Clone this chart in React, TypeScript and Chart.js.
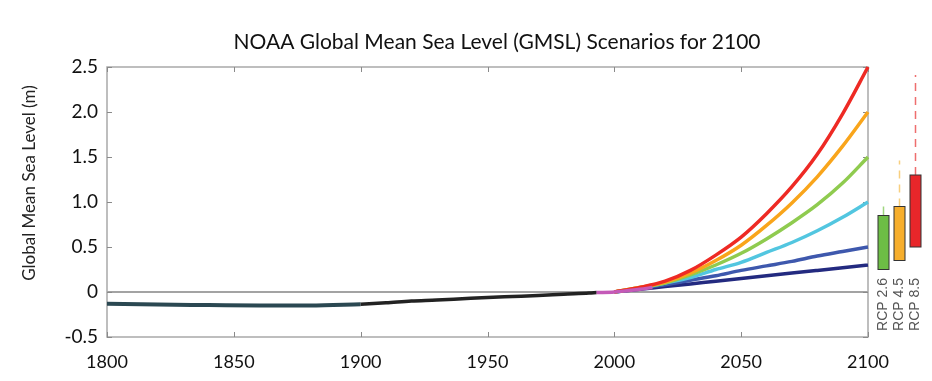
import React, { useEffect, useRef } from "react";
import { Chart, registerables } from "chart.js";

Chart.register(...registerables);

// ---------- data ----------
const chartTitle = "NOAA Global Mean Sea Level (GMSL) Scenarios for 2100";
const yAxisTitle = "Global Mean Sea Level (m)";

const earlyYears = [1800, 1820, 1840, 1860, 1880, 1900];
const earlyValues = [-0.13, -0.14, -0.145, -0.15, -0.15, -0.135];

const tideYears = [1900, 1910, 1920, 1930, 1940, 1950, 1960, 1970, 1980, 1990, 1993];
const tideValues = [-0.135, -0.12, -0.1, -0.09, -0.075, -0.06, -0.05, -0.04, -0.025, -0.012, -0.006];

const satYears = [1993, 2000, 2005, 2010, 2015];
const satValues = [-0.006, 0, 0.015, 0.03, 0.05];

const scenarioYears = [2000, 2010, 2020, 2030, 2040, 2050, 2060, 2070, 2080, 2090, 2100];
const lowValues = [0, 0.03, 0.06, 0.09, 0.12, 0.15, 0.18, 0.21, 0.24, 0.27, 0.3];
const intLowValues = [0, 0.04, 0.08, 0.13, 0.18, 0.24, 0.29, 0.34, 0.4, 0.45, 0.5];
const intermediateValues = [0, 0.04, 0.1, 0.16, 0.25, 0.33, 0.44, 0.55, 0.68, 0.83, 1.0];
const intHighValues = [0, 0.05, 0.1, 0.19, 0.3, 0.43, 0.59, 0.77, 0.97, 1.21, 1.5];
const highValues = [0, 0.05, 0.11, 0.21, 0.35, 0.52, 0.74, 0.99, 1.28, 1.62, 2.0];
const extremeValues = [0, 0.05, 0.12, 0.24, 0.41, 0.61, 0.87, 1.17, 1.53, 1.98, 2.5];

const rcpLabels = ["RCP 2.6", "RCP 4.5", "RCP 8.5"];
const rcpLow = [0.25, 0.35, 0.5];
const rcpHigh = [0.85, 0.95, 1.3];
const rcpWhiskerTop = [0.95, 1.46, 2.41];
const rcpColors = ["#6dbd45", "#f6ae2d", "#e8262a"];
const rcpWhiskerColors = ["#9fd67f", "#f8cf7f", "#ee6e6e"];
const rcpDashed = [false, true, true];

const xTickValues = [1800, 1850, 1900, 1950, 2000, 2050, 2100];
const yTickValues = [-0.5, 0, 0.5, 1.0, 1.5, 2.0, 2.5];

const toPts = (xs: number[], ys: number[]) => xs.map((x, i) => ({ x, y: ys[i] }));

const FONT = "Lato, 'Open Sans', sans-serif";

const decorPlugin = {
  id: "decor",
  beforeDatasetsDraw(chart: any) {
    const { ctx, chartArea: a, scales } = chart;
    ctx.save();
    ctx.strokeStyle = "#a9a9a9";
    ctx.lineWidth = 1.5;
    ctx.strokeRect(a.left, a.top, a.right - a.left, a.bottom - a.top);
    const tl = 5;
    ctx.lineWidth = 1;
    ctx.strokeStyle = "#8a8a8a";
    ctx.beginPath();
    for (const v of xTickValues) {
      const px = Math.round(scales.x.getPixelForValue(v)) + 0.5;
      ctx.moveTo(px, a.bottom);
      ctx.lineTo(px, a.bottom - tl);
      ctx.moveTo(px, a.top);
      ctx.lineTo(px, a.top + tl);
    }
    for (const v of yTickValues) {
      const py = Math.round(scales.y.getPixelForValue(v)) + 0.5;
      ctx.moveTo(a.left, py);
      ctx.lineTo(a.left + tl, py);
      ctx.moveTo(a.right, py);
      ctx.lineTo(a.right - tl, py);
    }
    ctx.stroke();
    ctx.restore();
  },
  afterDraw(chart: any) {
    const { ctx, chartArea: a, scales } = chart;
    const y = scales.y;
    ctx.save();
    // title
    ctx.fillStyle = "#111";
    ctx.font = `21px ${FONT}`;
    ctx.textAlign = "center";
    ctx.textBaseline = "middle";
    ctx.fillText(chartTitle, 497, 42);
    // y-axis title
    ctx.save();
    ctx.translate(30, 183);
    ctx.rotate(-Math.PI / 2);
    ctx.font = `17px ${FONT}`;
    ctx.fillStyle = "#222";
    ctx.fillText(yAxisTitle, 0, 0);
    ctx.restore();
    // RCP boxes
    const w = 11;
    rcpLabels.forEach((lab, i) => {
      const left = a.right + 10 + i * 16;
      const cx = left + w / 2;
      const top = y.getPixelForValue(rcpHigh[i]);
      const bot = y.getPixelForValue(rcpLow[i]);
      const wt = y.getPixelForValue(rcpWhiskerTop[i]);
      ctx.save();
      ctx.strokeStyle = rcpWhiskerColors[i];
      ctx.lineWidth = 1.5;
      if (rcpDashed[i]) ctx.setLineDash([8, 6]);
      ctx.beginPath();
      ctx.moveTo(cx, top);
      ctx.lineTo(cx, wt);
      ctx.stroke();
      ctx.restore();
      ctx.fillStyle = rcpColors[i];
      ctx.fillRect(left, top, w, bot - top);
      ctx.strokeStyle = "#333";
      ctx.lineWidth = 1;
      ctx.strokeRect(left, top, w, bot - top);
      ctx.save();
      ctx.translate(cx, 278);
      ctx.rotate(-Math.PI / 2);
      ctx.font = "14px 'Liberation Sans', Arial, sans-serif";
      ctx.fillStyle = "#555";
      ctx.textAlign = "right";
      ctx.textBaseline = "middle";
      ctx.fillText(lab, 0, 0);
      ctx.restore();
    });
    ctx.restore();
  },
};

export default function App() {
  const ref = useRef<HTMLCanvasElement>(null);
  useEffect(() => {
    if (!ref.current) return;
    const line = (data: any, color: string, width = 3.5) => ({
      data,
      borderColor: color,
      backgroundColor: color,
      borderWidth: width,
      pointRadius: 0,
      cubicInterpolationMode: "monotone" as const,
      fill: false,
      clip: 8,
    });
    const chart = new Chart(ref.current, {
      type: "line",
      data: {
        datasets: [
          line(toPts(satYears, satValues), "#c45ab8"),
          line(toPts(scenarioYears, extremeValues), "#ee2a24"),
          line(toPts(scenarioYears, highValues), "#f9a51b"),
          line(toPts(scenarioYears, intHighValues), "#8fcb4f"),
          line(toPts(scenarioYears, intermediateValues), "#52c6e0"),
          line(toPts(scenarioYears, intLowValues), "#3e58ad"),
          line(toPts(scenarioYears, lowValues), "#232a80"),
          line(toPts(tideYears, tideValues), "#222222"),
          line(toPts(earlyYears, earlyValues), "#2b4852", 4),
        ],
      },
      options: {
        responsive: false,
        animation: false,
        layout: { padding: { top: 67, right: 64, left: 0, bottom: 0 } },
        plugins: { legend: { display: false }, tooltip: { enabled: false }, title: { display: false } },
        scales: {
          x: {
            type: "linear",
            min: 1800,
            max: 2100,
            afterBuildTicks: (s: any) => {
              s.ticks = xTickValues.map((v) => ({ value: v }));
            },
            afterFit: (s: any) => {
              s.height = 44;
            },
            grid: { display: false },
            border: { display: false },
            ticks: {
              padding: 6,
              color: "#111",
              font: { family: FONT, size: 18 },
              maxRotation: 0,
              autoSkip: false,
              callback: (v: any) => String(v),
            },
          },
          y: {
            type: "linear",
            min: -0.5,
            max: 2.5,
            afterBuildTicks: (s: any) => {
              s.ticks = yTickValues.map((v) => ({ value: v }));
            },
            afterFit: (s: any) => {
              s.width = 107;
            },
            grid: {
              drawTicks: false,
              color: (c: any) => (c.tick && c.tick.value === 0 ? "#a3a3a3" : "rgba(0,0,0,0)"),
              lineWidth: 2,
            },
            border: { display: false },
            ticks: {
              padding: 9,
              color: "#111",
              font: { family: FONT, size: 19 },
              callback: (v: any) => (Number(v) === 0 ? "0" : Number(v).toFixed(1)),
            },
          },
        },
      },
      plugins: [decorPlugin],
    });
    return () => chart.destroy();
  }, []);
  return (
    <div style={{ position: "absolute", left: 0, top: 0, width: 932, height: 381, background: "#fff" }}>
      <canvas ref={ref} width={932} height={381} style={{ display: "block" }} />
    </div>
  );
}
